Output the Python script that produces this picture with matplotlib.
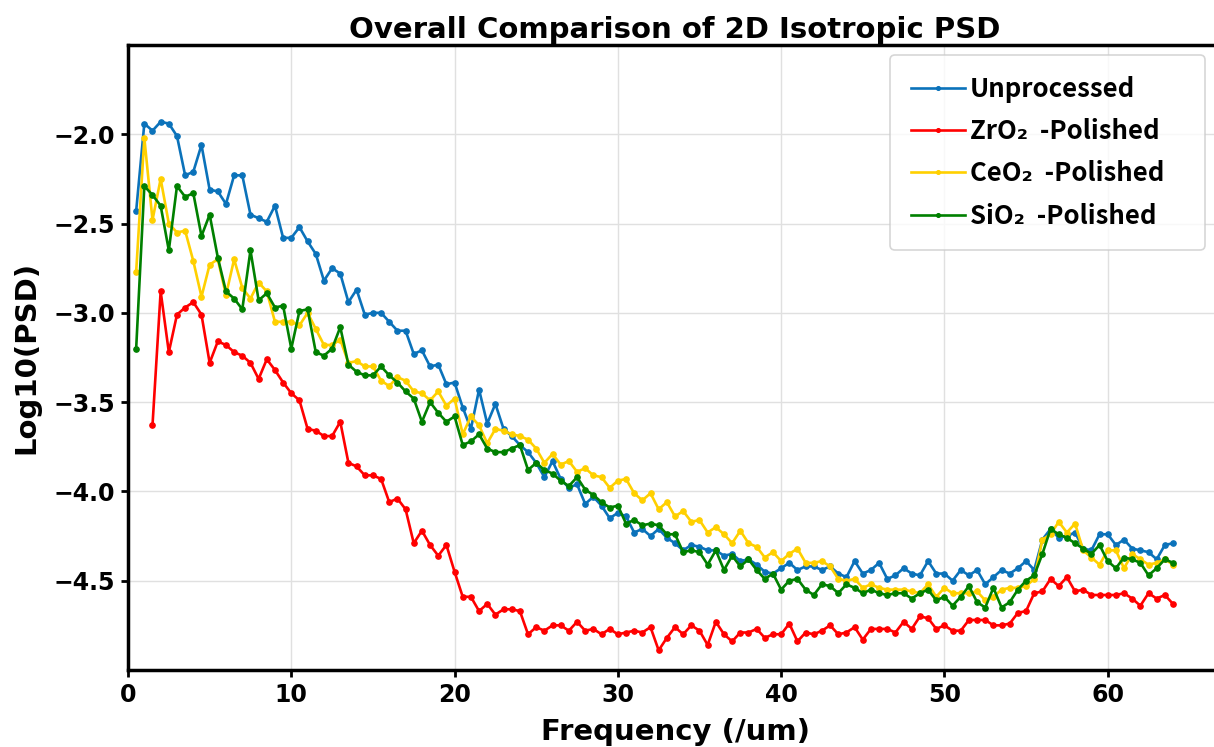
import numpy as np
import matplotlib
matplotlib.use("Agg")
import matplotlib.pyplot as plt

# spatial frequency grid (1/um)
freq = np.arange(0.5, 64.01, 0.5)

unprocessed = [
    -2.43, -1.94, -1.98, -1.93, -1.94, -2.01, -2.23, -2.21, -2.06, -2.31, -2.32, -2.39, -2.23, -2.23, -2.45, -2.47,
    -2.49, -2.40, -2.58, -2.58, -2.52, -2.60, -2.67, -2.82, -2.75, -2.78, -2.94, -2.87, -3.01, -3.00, -3.00,
    -3.05, -3.10, -3.10, -3.23, -3.21, -3.30, -3.29, -3.40, -3.39, -3.53, -3.65, -3.43, -3.62, -3.51,
    -3.65, -3.69, -3.74, -3.78, -3.84, -3.92, -3.83, -3.93, -3.98, -3.96, -4.07, -4.03, -4.08, -4.15, -4.12, -4.14,
    -4.23, -4.21, -4.25, -4.21, -4.26, -4.29, -4.33, -4.30, -4.31, -4.33, -4.33, -4.36, -4.35, -4.39, -4.38, -4.41,
    -4.45, -4.46, -4.43,
    -4.40, -4.44, -4.42, -4.42, -4.44, -4.42, -4.46, -4.48, -4.39, -4.46, -4.44, -4.40, -4.49, -4.47, -4.43, -4.46,
    -4.47, -4.39,
    -4.46, -4.46, -4.50, -4.44, -4.47, -4.44, -4.52, -4.48, -4.44, -4.46, -4.43, -4.39, -4.44, -4.27, -4.21, -4.26,
    -4.25, -4.23,
    -4.32, -4.33, -4.24, -4.24, -4.30, -4.27, -4.32, -4.33, -4.34, -4.38, -4.30, -4.29,
]

zro2 = [
    np.nan, np.nan,
    -3.63, -2.88, -3.22, -3.01, -2.97, -2.94, -3.01, -3.28, -3.16, -3.18, -3.22, -3.24, -3.28, -3.37,
    -3.26, -3.32, -3.39, -3.45, -3.49, -3.65, -3.66, -3.69, -3.69, -3.61, -3.84, -3.86, -3.91, -3.91, -3.93,
    -4.06, -4.04, -4.10, -4.29, -4.22, -4.30, -4.36, -4.30, -4.45, -4.59, -4.59, -4.67, -4.63, -4.69,
    -4.66, -4.66, -4.67, -4.80, -4.76, -4.78, -4.75, -4.75, -4.78, -4.73, -4.78, -4.77, -4.80, -4.77, -4.80, -4.79,
    -4.78, -4.79, -4.76, -4.89, -4.82, -4.76, -4.80, -4.75, -4.78, -4.86, -4.73, -4.80, -4.84, -4.79, -4.79, -4.77,
    -4.82, -4.80, -4.80,
    -4.74, -4.84, -4.79, -4.80, -4.78, -4.75, -4.80, -4.79, -4.76, -4.83, -4.77, -4.77, -4.77, -4.79, -4.73, -4.77,
    -4.70, -4.71,
    -4.77, -4.75, -4.78, -4.78, -4.72, -4.72, -4.72, -4.75, -4.75, -4.74, -4.68, -4.67, -4.57, -4.56, -4.49, -4.53,
    -4.48, -4.56,
    -4.55, -4.58, -4.58, -4.58, -4.58, -4.57, -4.60, -4.64, -4.57, -4.60, -4.58, -4.63,
]

ceo2 = [
    -2.77, -2.02, -2.48, -2.25, -2.50, -2.55, -2.54, -2.71, -2.91, -2.73, -2.70, -2.90, -2.70, -2.86, -2.92, -2.83,
    -2.88, -3.05, -3.05, -3.05, -3.07, -3.00, -3.09, -3.18, -3.18, -3.15, -3.28, -3.27, -3.30, -3.30, -3.38,
    -3.41, -3.36, -3.38, -3.44, -3.45, -3.49, -3.44, -3.52, -3.48, -3.68, -3.58, -3.63, -3.73, -3.65,
    -3.66, -3.68, -3.69, -3.71, -3.76, -3.84, -3.79, -3.85, -3.83, -3.89, -3.87, -3.91, -3.92, -3.98, -3.94, -3.93,
    -4.01, -4.05, -4.01, -4.10, -4.06, -4.14, -4.11, -4.17, -4.16, -4.23, -4.20, -4.24, -4.29, -4.22, -4.29, -4.31,
    -4.37, -4.34, -4.39,
    -4.35, -4.32, -4.40, -4.40, -4.39, -4.42, -4.49, -4.50, -4.49, -4.54, -4.52, -4.54, -4.55, -4.55, -4.55, -4.56,
    -4.57, -4.52,
    -4.59, -4.54, -4.57, -4.57, -4.57, -4.56, -4.61, -4.59, -4.55, -4.54, -4.54, -4.53, -4.49, -4.27, -4.24, -4.17,
    -4.23, -4.18,
    -4.33, -4.37, -4.41, -4.33, -4.33, -4.43, -4.35, -4.38, -4.41, -4.40, -4.38, -4.41,
]

sio2 = [
    -3.20, -2.29, -2.34, -2.40, -2.65, -2.29, -2.35, -2.33, -2.57, -2.45, -2.69, -2.88, -2.92, -2.98, -2.65, -2.93,
    -2.89, -2.97, -2.96, -3.20, -2.99, -2.98, -3.22, -3.24, -3.20, -3.08, -3.29, -3.33, -3.35, -3.35, -3.30,
    -3.35, -3.39, -3.44, -3.48, -3.61, -3.50, -3.56, -3.61, -3.58, -3.74, -3.72, -3.68, -3.76, -3.78,
    -3.78, -3.76, -3.74, -3.88, -3.84, -3.88, -3.90, -3.94, -3.97, -3.92, -3.99, -4.02, -4.06, -4.09, -4.08, -4.18,
    -4.16, -4.19, -4.18, -4.19, -4.24, -4.24, -4.34, -4.33, -4.34, -4.41, -4.33, -4.44, -4.36, -4.42, -4.38, -4.44,
    -4.49, -4.46, -4.55,
    -4.50, -4.49, -4.55, -4.58, -4.52, -4.53, -4.57, -4.52, -4.54, -4.57, -4.55, -4.57, -4.58, -4.57, -4.57, -4.60,
    -4.57, -4.55,
    -4.61, -4.59, -4.64, -4.59, -4.53, -4.62, -4.65, -4.54, -4.65, -4.62, -4.55, -4.50, -4.47, -4.35, -4.21, -4.24,
    -4.26, -4.29,
    -4.32, -4.35, -4.30, -4.39, -4.43, -4.37, -4.38, -4.40, -4.47, -4.43, -4.38, -4.40,
]

labels = ["Unprocessed", "ZrO\u2082  -Polished", "CeO\u2082  -Polished", "SiO\u2082  -Polished"]
colors = ["#0b72ba", "#ff0000", "#ffd000", "#008000"]

fig = plt.figure(figsize=(12.14, 7.47), dpi=100)
ax = fig.add_axes([128 / 1214, 77 / 747, 1094 / 1214, 625 / 747])

for y, lab, c in zip([unprocessed, zro2, ceo2, sio2], labels, colors):
    ax.plot(freq, y, color=c, lw=1.9, marker="o", ms=3.8, label=lab)

ax.set_xlim(0, 67)
ax.set_ylim(-5.0, -1.5)
ax.set_xticks([0, 10, 20, 30, 40, 50, 60])
ax.set_yticks([-2.0, -2.5, -3.0, -3.5, -4.0, -4.5])
ax.grid(True, color="#e0e0e0", lw=1)
ax.set_axisbelow(True)

for s in ax.spines.values():
    s.set_linewidth(2.5)
ax.tick_params(width=2, length=5, labelsize=17, pad=4)
for t in ax.get_xticklabels() + ax.get_yticklabels():
    t.set_fontweight("bold")

ax.set_xlabel("Frequency (/um)", fontsize=21, fontweight="bold", labelpad=8)
ax.set_ylabel("Log10(PSD)", fontsize=21, fontweight="bold", labelpad=10)
ax.set_title("Overall Comparison of 2D Isotropic PSD", fontsize=21, fontweight="bold", pad=5)

# legend box stretched to a fixed width, anchored at its top-left corner
leg = ax.legend(loc="upper left",
                bbox_to_anchor=(890 / 1214, 1 - 55 / 747 - 0.3, 315 / 1214, 0.3),
                bbox_transform=fig.transFigure, borderaxespad=0, mode="expand",
                prop={"family": ["Noto Sans CJK SC", "DejaVu Sans"], "size": 18.5, "weight": "bold"},
                handlelength=2.1, handletextpad=0.2, labelspacing=0.6, fancybox=True,
                markerscale=0.7, borderpad=0.8)
leg.get_frame().set_edgecolor("#cccccc")
leg.get_frame().set_linewidth(1.2)

fig.savefig("out.png", dpi=100)
